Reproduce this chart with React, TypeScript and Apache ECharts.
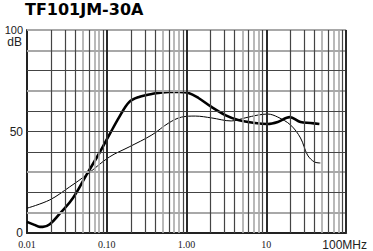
import React, { useEffect, useRef } from "react";
import * as echarts from "echarts";

const title = "TF101JM-30A";
const yUnit = "dB";

// thick curve (frequency MHz, dB)
const thickFreq = [0.01, 0.0124, 0.0145, 0.0158, 0.0193, 0.0257, 0.0342, 0.0418, 0.0556, 0.0807, 0.1074, 0.143, 0.1905, 0.253, 0.367, 0.597, 0.796, 1.059, 1.41, 2.05, 3.05, 4.43, 7.19, 10.4, 13.9, 19.6, 26.8, 35.7, 46.2];
const thickDb = [5.5, 4.0, 3.0, 3.0, 4.3, 9.5, 15.0, 20.0, 28.6, 39.4, 48.3, 57.1, 64.5, 67.0, 68.5, 69.5, 69.5, 69.0, 66.5, 62.1, 58.1, 55.7, 54.2, 53.7, 54.7, 57.1, 54.7, 54.2, 53.7];

// thin curve
const thinFreq = [0.01, 0.0193, 0.0342, 0.0556, 0.1074, 0.1905, 0.367, 0.597, 0.867, 1.29, 2.05, 3.62, 5.41, 7.84, 10.4, 13.9, 20.1, 26.8, 32.8, 40.0, 47.5];
const thinDb = [12.2, 16.3, 22.7, 28.6, 37.4, 42.4, 48.3, 54.2, 57.1, 57.6, 56.7, 55.2, 56.7, 58.1, 58.6, 57.1, 53.2, 46.8, 38.4, 35.0, 34.5];

const xTickLabels: Record<string, string> = { "-2": "0.01", "-1": "0.10", "0": "1.00", "1": "10", "2": "{m|100MHz}" };
const yTickLabels: Record<string, string> = { "0": "0", "50": "50", "100": "{s|100}" };

const decades = [0.01, 0.1, 1, 10];
const darkMinor = [2, 3, 4, 6, 9];
const grayMinor = [5, 7, 8];
const darkH = [20, 40, 50, 60, 80];
const grayH = [10, 30, 70, 90, 100];

export default function App() {
  const ref = useRef<HTMLDivElement>(null);
  useEffect(() => {
    if (!ref.current) return;
    const chart = echarts.init(ref.current, null, { renderer: "svg" });
    const dark = "#444";
    const gray = "#a8a8a8";
    const vDark: any[] = [];
    const vGray: any[] = [];
    decades.forEach((d) => {
      darkMinor.forEach((m) => vDark.push({ xAxis: d * m }));
      grayMinor.forEach((m) => vGray.push({ xAxis: d * m }));
    });
    const mk = (data: any[], color: string, width: number) => ({
      silent: true,
      symbol: "none",
      label: { show: false },
      animation: false,
      lineStyle: { color, width, type: "solid" },
      emphasis: { disabled: true },
      data,
    });
    const yBase = {
      type: "value",
      min: 0,
      max: 100,
      interval: 50,
      position: "left",
      axisTick: { show: false },
      splitLine: { show: false },
    };
    const option: any = {
      animation: false,
      title: {
        text: title,
        left: 25,
        top: 1,
        padding: 0,
        textStyle: { fontFamily: "DejaVu Sans", fontWeight: "bold", fontSize: 16, color: "#000" },
      },
      grid: { left: 27, top: 30, right: 24, bottom: 18, containLabel: false },
      xAxis: {
        type: "log",
        logBase: 10,
        min: 0.01,
        max: 100,
        axisLine: { show: true, lineStyle: { color: "#222", width: 2 } },
        axisTick: { show: false },
        splitLine: { show: false },
        axisLabel: {
          margin: 6,
          fontFamily: "Liberation Serif",
          fontSize: 10,
          lineHeight: 10,
          color: "#222",
          formatter: (v: number) => xTickLabels[String(Math.round(Math.log10(v)))] ?? "",
          rich: { m: { fontFamily: "Liberation Sans", fontSize: 12, lineHeight: 11, color: "#222", padding: [0, 3, 0, 0] } },
        },
      },
      yAxis: [
        {
          ...yBase,
          axisLine: { show: true, lineStyle: { color: "#222", width: 2 } },
          axisLabel: {
            margin: 4,
            fontFamily: "Liberation Sans",
            fontSize: 12,
            lineHeight: 9,
            color: "#222",
            formatter: (v: number) => yTickLabels[String(v)] ?? "",
            rich: { s: { fontFamily: "Liberation Sans", fontSize: 11, lineHeight: 9, color: "#222" } },
          },
        },
        {
          ...yBase,
          axisLine: { show: false },
          axisLabel: {
            margin: 5,
            fontFamily: "Liberation Sans",
            fontSize: 12,
            lineHeight: 9,
            color: "#222",
            verticalAlign: "top",
            padding: [7, 0, 0, 0],
            formatter: (v: number) => (v === 100 ? yUnit : ""),
          },
        },
      ],
      series: [
        { type: "line", data: [], z: 1, markLine: mk(vGray, gray, 1.6) },
        { type: "line", data: [], z: 1, markLine: mk(grayH.map((v) => ({ yAxis: v })), gray, 1.8) },
        { type: "line", data: [], z: 1, markLine: mk(vDark, dark, 1.2) },
        { type: "line", data: [], z: 1, markLine: mk(darkH.map((v) => ({ yAxis: v })), dark, 1.2) },
        { type: "line", data: [], z: 1, markLine: mk([0.1, 1, 10, 100].map((v) => ({ xAxis: v })), "#2a2a2a", 2) },
        {
          type: "line",
          z: 3,
          smooth: 0.35,
          showSymbol: false,
          symbol: "none",
          lineStyle: { color: "#000", width: 1 },
          data: thinFreq.map((f, i) => [f, thinDb[i]]),
        },
        {
          type: "line",
          z: 4,
          smooth: 0.35,
          showSymbol: false,
          symbol: "none",
          lineStyle: { color: "#000", width: 2.6 },
          data: thickFreq.map((f, i) => [f, thickDb[i]]),
        },
      ],
    };
    chart.setOption(option);
    return () => chart.dispose();
  }, []);
  return <div ref={ref} style={{ position: "fixed", left: 0, top: 0, width: 373, height: 251, background: "#fff" }} />;
}
